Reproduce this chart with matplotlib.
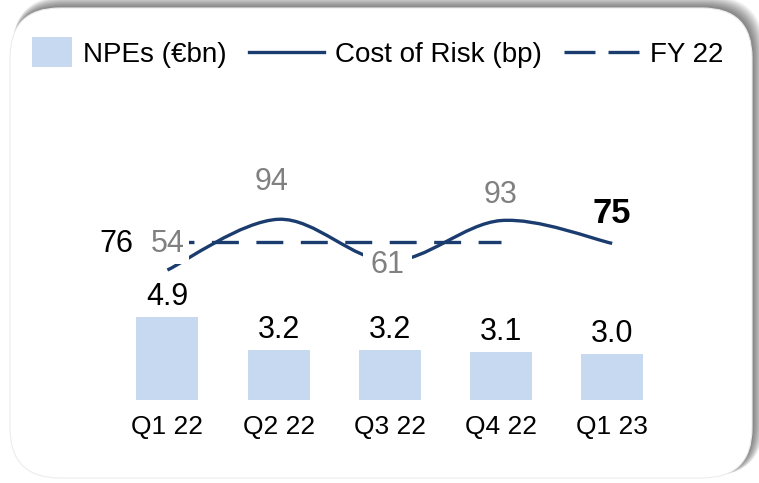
import numpy as np
import matplotlib
matplotlib.use("Agg")
import matplotlib.pyplot as plt
from matplotlib.patches import FancyBboxPatch, Rectangle, PathPatch
from matplotlib.path import Path
from matplotlib.lines import Line2D
from matplotlib.legend_handler import HandlerBase

plt.rcParams['font.family'] = ['Liberation Sans', 'DejaVu Sans']
plt.rcParams['lines.scale_dashes'] = False

# data
quarters = ["Q1 22", "Q2 22", "Q3 22", "Q4 22", "Q1 23"]
npes = [4.9, 3.2, 3.2, 3.1, 3.0]          # €bn
cost_of_risk = [54, 94, 61, 93, 75]       # bp
fy22 = [76, 76, 76, 76]                   # bp, FY 22 average over the 2022 quarters

BAR = "#c6d9f0"
NAVY = "#1b3c6e"
GREY = "#808080"

W, H = 759, 483
fig = plt.figure(figsize=(W / 100, H / 100), dpi=100)

# card with soft shadow on top / right (pixel coords)
bg = fig.add_axes([0, 0, 1, 1], zorder=-1)
bg.set_xlim(0, W)
bg.set_ylim(H, 0)
bg.axis('off')
for g in range(11):
    bg.add_patch(FancyBboxPatch((12, 6 - g), 742 + g, 470 + g,
                                boxstyle="round,pad=0,rounding_size=%.1f" % (50 + g / 2),
                                fc="black", ec="none", alpha=0.05))
bg.add_patch(FancyBboxPatch((10, 8), 742, 470, boxstyle="round,pad=0,rounding_size=50",
                            fc="white", ec="#ececec", lw=0.8))

# bars
ax = fig.add_axes([111.8 / W, 83 / H, 556 / W, 340 / H])
ax.patch.set_visible(False)
x = np.arange(len(quarters))
ax.bar(x, npes, width=0.557, color=BAR)
ax.set_xlim(-0.5, 4.5)
ax.set_ylim(0.584, 0.584 + 340 / 19.16)
ax.set_xticks(x, quarters)
ax.set_yticks([])
ax.tick_params(axis='x', length=0, pad=10.5, labelsize=19)
for s in ax.spines.values():
    s.set_visible(False)
for xi, v in zip(x, npes):
    ax.annotate(f"{v:.1f}", (xi, v), xytext=(0, 12), textcoords='offset pixels',
                ha='center', va='baseline', fontsize=22)

# cost of risk on its own scale
ax2 = ax.twinx()
ax2.set_ylim(-48.5, 219.6)
ax2.set_axis_off()

pts = np.column_stack([x, cost_of_risk]).astype(float)
verts = [pts[0]]
codes = [Path.MOVETO]
n = len(pts)
for i in range(n - 1):
    p0 = pts[max(i - 1, 0)]
    p3 = pts[min(i + 2, n - 1)]
    c1 = pts[i] + (pts[i + 1] - p0) / 6
    c2 = pts[i + 1] - (p3 - pts[i]) / 6
    verts += [c1, c2, pts[i + 1]]
    codes += [Path.CURVE4] * 3
ax2.add_patch(PathPatch(Path(verts, codes), fill=False, ec=NAVY, lw=2.4, zorder=2,
                        capstyle='butt'))

ax2.plot(x[:len(fy22)], fy22, color=NAVY, lw=2.4, dashes=(19.4, 12.6), zorder=4)

offsets = [(0, 18), (-7, 29), (-2, -12), (0, 17.6), (0, 20)]
for i, (v, off) in enumerate(zip(cost_of_risk, offsets)):
    kw = dict(xytext=off, textcoords='offset pixels', ha='center', va='baseline')
    if i == len(cost_of_risk) - 1:
        ax2.annotate(str(v), (x[i], v), fontsize=25, fontweight='bold', color='black', zorder=6, **kw)
    elif i == 0:
        ax2.annotate(str(v), (x[i], v), fontsize=22, color=GREY, zorder=5,
                     bbox=dict(boxstyle="square,pad=0.15", fc="white", ec="none"), **kw)
    elif i == 2:
        ax2.annotate(str(v), (x[i], v), fontsize=22, color=GREY, zorder=3,
                     bbox=dict(boxstyle="square,pad=0.25", fc="white", ec="none"), **kw)
    else:
        ax2.annotate(str(v), (x[i], v), fontsize=22, color=GREY, zorder=6, **kw)

ax2.annotate(str(fy22[0]), (0, fy22[0]), xytext=(-34, -9.6), textcoords='offset pixels',
             ha='right', va='baseline', fontsize=22, color='black')


# legend
class BoxHandler(HandlerBase):
    def create_artists(self, legend, orig_handle, xdescent, ydescent, width, height,
                       fontsize, trans):
        w, h = 28.8, 21.6
        r = Rectangle((width - xdescent - w, height / 2 - ydescent - h / 2), w, h,
                      facecolor=orig_handle.get_facecolor(), edgecolor='none', transform=trans)
        return [r]


handles = [Rectangle((0, 0), 1, 1, fc=BAR),
           Line2D([], [], color=NAVY, lw=2.4),
           Line2D([], [], color=NAVY, lw=2.4, dashes=(22.3, 9.4))]
fs = 20 * 100 / 72
fig.legend(handles, ["NPEs (€bn)", "Cost of Risk (bp)", "FY 22"], ncol=3,
           loc='center left', bbox_to_anchor=(-3 / W, 1 - 55 / H), frameon=False,
           fontsize=20, handlelength=75 / fs, handletextpad=11 / fs,
           columnspacing=22 / fs, borderpad=0, borderaxespad=0,
           handler_map={Rectangle: BoxHandler()})

fig.savefig("out.png", dpi=100)
